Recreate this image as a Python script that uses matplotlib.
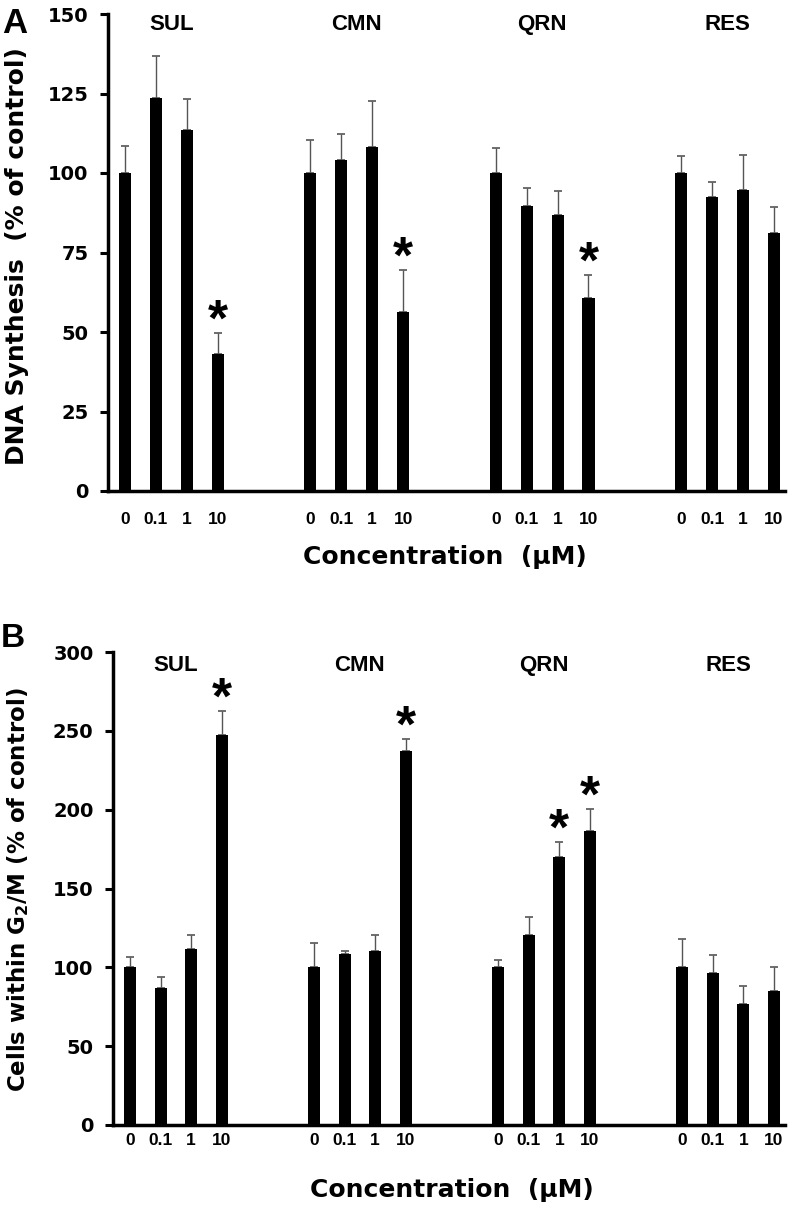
"""Two-panel bar chart: DNA synthesis and G2/M fraction by compound and dose."""

import matplotlib
matplotlib.use("Agg")
import matplotlib.pyplot as plt
import matplotlib.transforms as mtransforms
import numpy as np

W, H = 792, 1208
GROUPS = ["SUL", "CMN", "QRN", "RES"]
CONC_LABELS = ["0", "0.1", "1", "10"]

dna_mean = [100, 123.7, 113.4, 43.0, 100, 104.2, 108.2, 56.4,
            100, 89.7, 86.7, 60.8, 100, 92.5, 94.7, 81.1]
dna_err = [8.4, 13.2, 9.9, 6.6, 10.5, 8.1, 14.4, 13.1,
           7.9, 5.6, 7.7, 7.1, 5.4, 4.8, 11.0, 8.1]
dna_sig = [0, 0, 0, 1, 0, 0, 0, 1, 0, 0, 0, 1, 0, 0, 0, 0]

g2m_mean = [100, 86.7, 111.7, 247.5, 100, 108.3, 110.2, 237.5,
            100, 120.2, 170.2, 186.5, 100, 96.2, 76.7, 85.2]
g2m_err = [6.6, 7.2, 9.1, 15.0, 15.3, 1.9, 10.0, 7.2,
           4.5, 11.8, 9.5, 14.0, 18.0, 11.7, 11.7, 15.1]
g2m_sig = [0, 0, 0, 1, 0, 0, 0, 1, 0, 0, 1, 1, 0, 0, 0, 0]

BOLD_DV = dict(family="DejaVu Sans", fontweight="bold")
BOLD_LS = dict(family="Liberation Sans", fontweight="bold")


def positions():
    return np.array([g * 6 + i for g in range(len(GROUPS)) for i in range(len(CONC_LABELS))])


def draw_panel(ax, mean, err, sig, ymax, ystep, ytop_frac, tick_pad):
    x = positions()
    ax.bar(x, mean, width=0.39, color="black", zorder=2)
    ax.errorbar(x, mean, yerr=[np.zeros(len(err)), err], fmt="none", ecolor="#555555",
                elinewidth=1.0, capsize=3.0, capthick=1.2, zorder=1)
    for xi, m, e, s in zip(x, mean, err, sig):
        if s:
            ax.annotate("*", (xi, m + e), xytext=(0, -2), textcoords="offset points",
                        ha="center", va="baseline", fontsize=37, **BOLD_LS)
    trans = mtransforms.blended_transform_factory(ax.transData, ax.transAxes)
    for g, name in enumerate(GROUPS):
        ax.text(g * 6 + 1.5, ytop_frac, name, transform=trans, ha="center", va="center",
                fontsize=16, **BOLD_LS)
    ax.set_xlim(-0.55, 21.36); ax.set_ylim(0, ymax)
    ax.set_yticks(np.arange(0, ymax + 1, ystep))
    ax.set_xticks(x, CONC_LABELS * len(GROUPS))
    for lab in ax.get_yticklabels():
        lab.set_fontsize(14); lab.set_fontfamily("DejaVu Sans"); lab.set_fontweight("bold")
    for lab in ax.get_xticklabels():
        lab.set_fontsize(12.5); lab.set_fontfamily("Liberation Sans"); lab.set_fontweight("bold")
    ax.tick_params(axis="y", direction="out", length=6, width=2.2, pad=8)
    ax.tick_params(axis="x", length=0, pad=tick_pad)
    for side in ("top", "right"):
        ax.spines[side].set_visible(False)
    for side in ("left", "bottom"):
        ax.spines[side].set_linewidth(2.5)


fig = plt.figure(figsize=(W / 100, H / 100), dpi=100)
ax_a = fig.add_axes([108 / W, 1 - 491 / H, 677 / W, 477 / H])
ax_b = fig.add_axes([113 / W, 1 - 1125 / H, 672 / W, 473 / H])

draw_panel(ax_a, dna_mean, dna_err, dna_sig, 150, 25, 0.977, 15)
draw_panel(ax_b, g2m_mean, g2m_err, g2m_sig, 300, 50, 0.9725, 6)

fig.text(17 / W, 1 - 256 / H, "DNA Synthesis  (% of control)", rotation=90,
         ha="center", va="center", fontsize=18, **BOLD_DV)
fig.text(18 / W, 1 - 890 / H, r"Cells within G$_\mathbf{2}$/M (% of control)", rotation=90,
         ha="center", va="center", fontsize=16.5, **BOLD_DV)
fig.text(445 / W, 1 - 557 / H, "Concentration  (µM)", ha="center", va="center",
         fontsize=18, **BOLD_DV)
fig.text(452 / W, 1 - 1190 / H, "Concentration  (µM)", ha="center", va="center",
         fontsize=18, **BOLD_DV)
fig.text(2 / W, 1 - 33 / H, "A", ha="left", va="baseline", fontsize=25, **BOLD_LS)
fig.text(1 / W, 1 - 647 / H, "B", ha="left", va="baseline", fontsize=24, **BOLD_LS)

fig.savefig("out.png", dpi=100)
